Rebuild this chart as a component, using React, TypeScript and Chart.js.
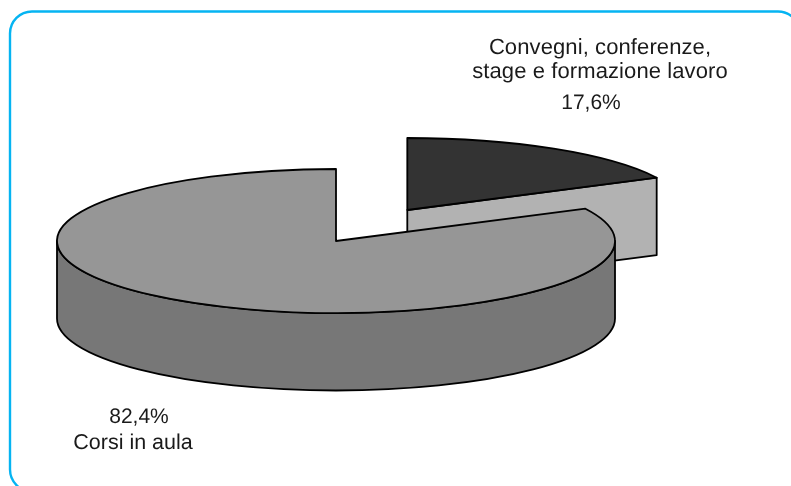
import React, { useEffect, useRef } from "react";
import { Chart, registerables } from "chart.js";

Chart.register(...registerables);

// Data
const categoryLines = ["Convegni, conferenze,", "stage e formazione lavoro"];
const categories = [categoryLines.join(" "), "Corsi in aula"];
const shares = [17.6, 82.4];
const shareLabels = ["17,6%", "82,4%"];
const topColors = ["#333333", "#969696"];
const wallColors = ["#b2b2b2", "#777777"];

// 3D projection
const WIDTH = 791;
const HEIGHT = 486;
const RADIUS = 279;
const CX = 336;
const CY = 241;
const SQUASH = 72 / 279;
const DEPTH = 77.5;
const EXPLODE = [
  { dx: 71.3, dy: -31 / SQUASH },
  { dx: 0, dy: 0 },
];
const LINE_WIDTH = 1.8;

const applySquash = (ctx: CanvasRenderingContext2D) => {
  ctx.translate(0, CY);
  ctx.scale(1, SQUASH);
  ctx.translate(0, -CY);
};

const piePlugin = {
  id: "pie3d",
  afterDatasetsUpdate(chart: any) {
    chart.getDatasetMeta(0).data.forEach((arc: any, i: number) => {
      arc.x = CX + EXPLODE[i].dx;
      arc.y = CY + EXPLODE[i].dy;
    });
  },
  beforeDraw(chart: any) {
    const ctx: CanvasRenderingContext2D = chart.ctx;
    ctx.save();
    ctx.fillStyle = "#ffffff";
    ctx.fillRect(0, 0, WIDTH, HEIGHT);
    ctx.beginPath();
    ctx.roundRect(10, 11.5, 790, 480, 22);
    ctx.strokeStyle = "#05b4f2";
    ctx.lineWidth = 2.4;
    ctx.stroke();
    ctx.restore();
  },
  beforeDatasetsDraw(chart: any) {
    const ctx: CanvasRenderingContext2D = chart.ctx;
    const arcs = chart.getDatasetMeta(0).data;
    ctx.save();
    ctx.strokeStyle = "#000000";
    ctx.lineWidth = LINE_WIDTH;
    ctx.lineJoin = "round";

    // back slice: the cut face that looks towards the viewer
    const small = arcs[0];
    const sx = small.x;
    const sy = CY + (small.y - CY) * SQUASH;
    const ex = sx + Math.cos(small.endAngle) * small.outerRadius;
    const ey = sy + Math.sin(small.endAngle) * small.outerRadius * SQUASH;
    ctx.beginPath();
    ctx.moveTo(sx, sy);
    ctx.lineTo(ex, ey);
    ctx.lineTo(ex, ey + DEPTH);
    ctx.lineTo(sx, sy + DEPTH);
    ctx.closePath();
    ctx.fillStyle = wallColors[0];
    ctx.fill();
    ctx.stroke();

    // front slice: the curved outer wall
    const big = arcs[1];
    const bx = big.x;
    const by = CY + (big.y - CY) * SQUASH;
    const rx = big.outerRadius;
    const ry = rx * SQUASH;
    ctx.beginPath();
    ctx.ellipse(bx, by, rx, ry, 0, 0, Math.PI, false);
    ctx.lineTo(bx - rx, by + DEPTH);
    ctx.ellipse(bx, by + DEPTH, rx, ry, 0, Math.PI, 0, true);
    ctx.closePath();
    ctx.fillStyle = wallColors[1];
    ctx.fill();
    ctx.stroke();
    ctx.restore();

    // tops: filled by Chart.js through the same flattening transform
    ctx.save();
    applySquash(ctx);
  },
  afterDatasetsDraw(chart: any) {
    const ctx: CanvasRenderingContext2D = chart.ctx;
    ctx.restore();
    ctx.save();
    ctx.strokeStyle = "#000000";
    ctx.lineWidth = LINE_WIDTH;
    ctx.lineJoin = "round";
    chart.getDatasetMeta(0).data.forEach((arc: any) => {
      ctx.save();
      applySquash(ctx);
      ctx.beginPath();
      ctx.moveTo(arc.x, arc.y);
      ctx.arc(arc.x, arc.y, arc.outerRadius, arc.startAngle, arc.endAngle);
      ctx.closePath();
      ctx.restore();
      ctx.stroke();
    });
    ctx.fillStyle = "#1a1a1a";
    ctx.textAlign = "center";
    ctx.textBaseline = "alphabetic";
    (ctx as any).textRendering = "geometricPrecision";
    ctx.font = '22px "Liberation Sans", Arial, sans-serif';
    (ctx as any).letterSpacing = "0.1px";
    ctx.fillText(categoryLines[0], 600, 53.5);
    ctx.fillText(categoryLines[1], 600, 78);
    (ctx as any).letterSpacing = "0px";
    ctx.font = '21.5px "Liberation Sans", Arial, sans-serif';
    ctx.fillText(categories[1], 133, 448.5);
    ctx.font = '21px "Liberation Sans", Arial, sans-serif';
    ctx.fillText(shareLabels[0], 591, 109);
    ctx.fillText(shareLabels[1], 139, 423);
    ctx.restore();
  },
};

export default function App() {
  const ref = useRef<HTMLCanvasElement | null>(null);
  useEffect(() => {
    document.body.style.margin = "0";
    const chart = new Chart(ref.current as HTMLCanvasElement, {
      type: "pie",
      data: {
        labels: categories,
        datasets: [
          {
            data: shares,
            backgroundColor: topColors,
            borderWidth: 0,
            radius: RADIUS,
          } as any,
        ],
      },
      options: {
        responsive: false,
        animation: false,
        events: [],
        plugins: { legend: { display: false }, tooltip: { enabled: false } },
      },
      plugins: [piePlugin],
    } as any);
    return () => chart.destroy();
  }, []);
  return (
    <div style={{ width: WIDTH, height: HEIGHT, overflow: "hidden" }}>
      <canvas ref={ref} width={WIDTH} height={HEIGHT} style={{ display: "block" }} />
    </div>
  );
}
